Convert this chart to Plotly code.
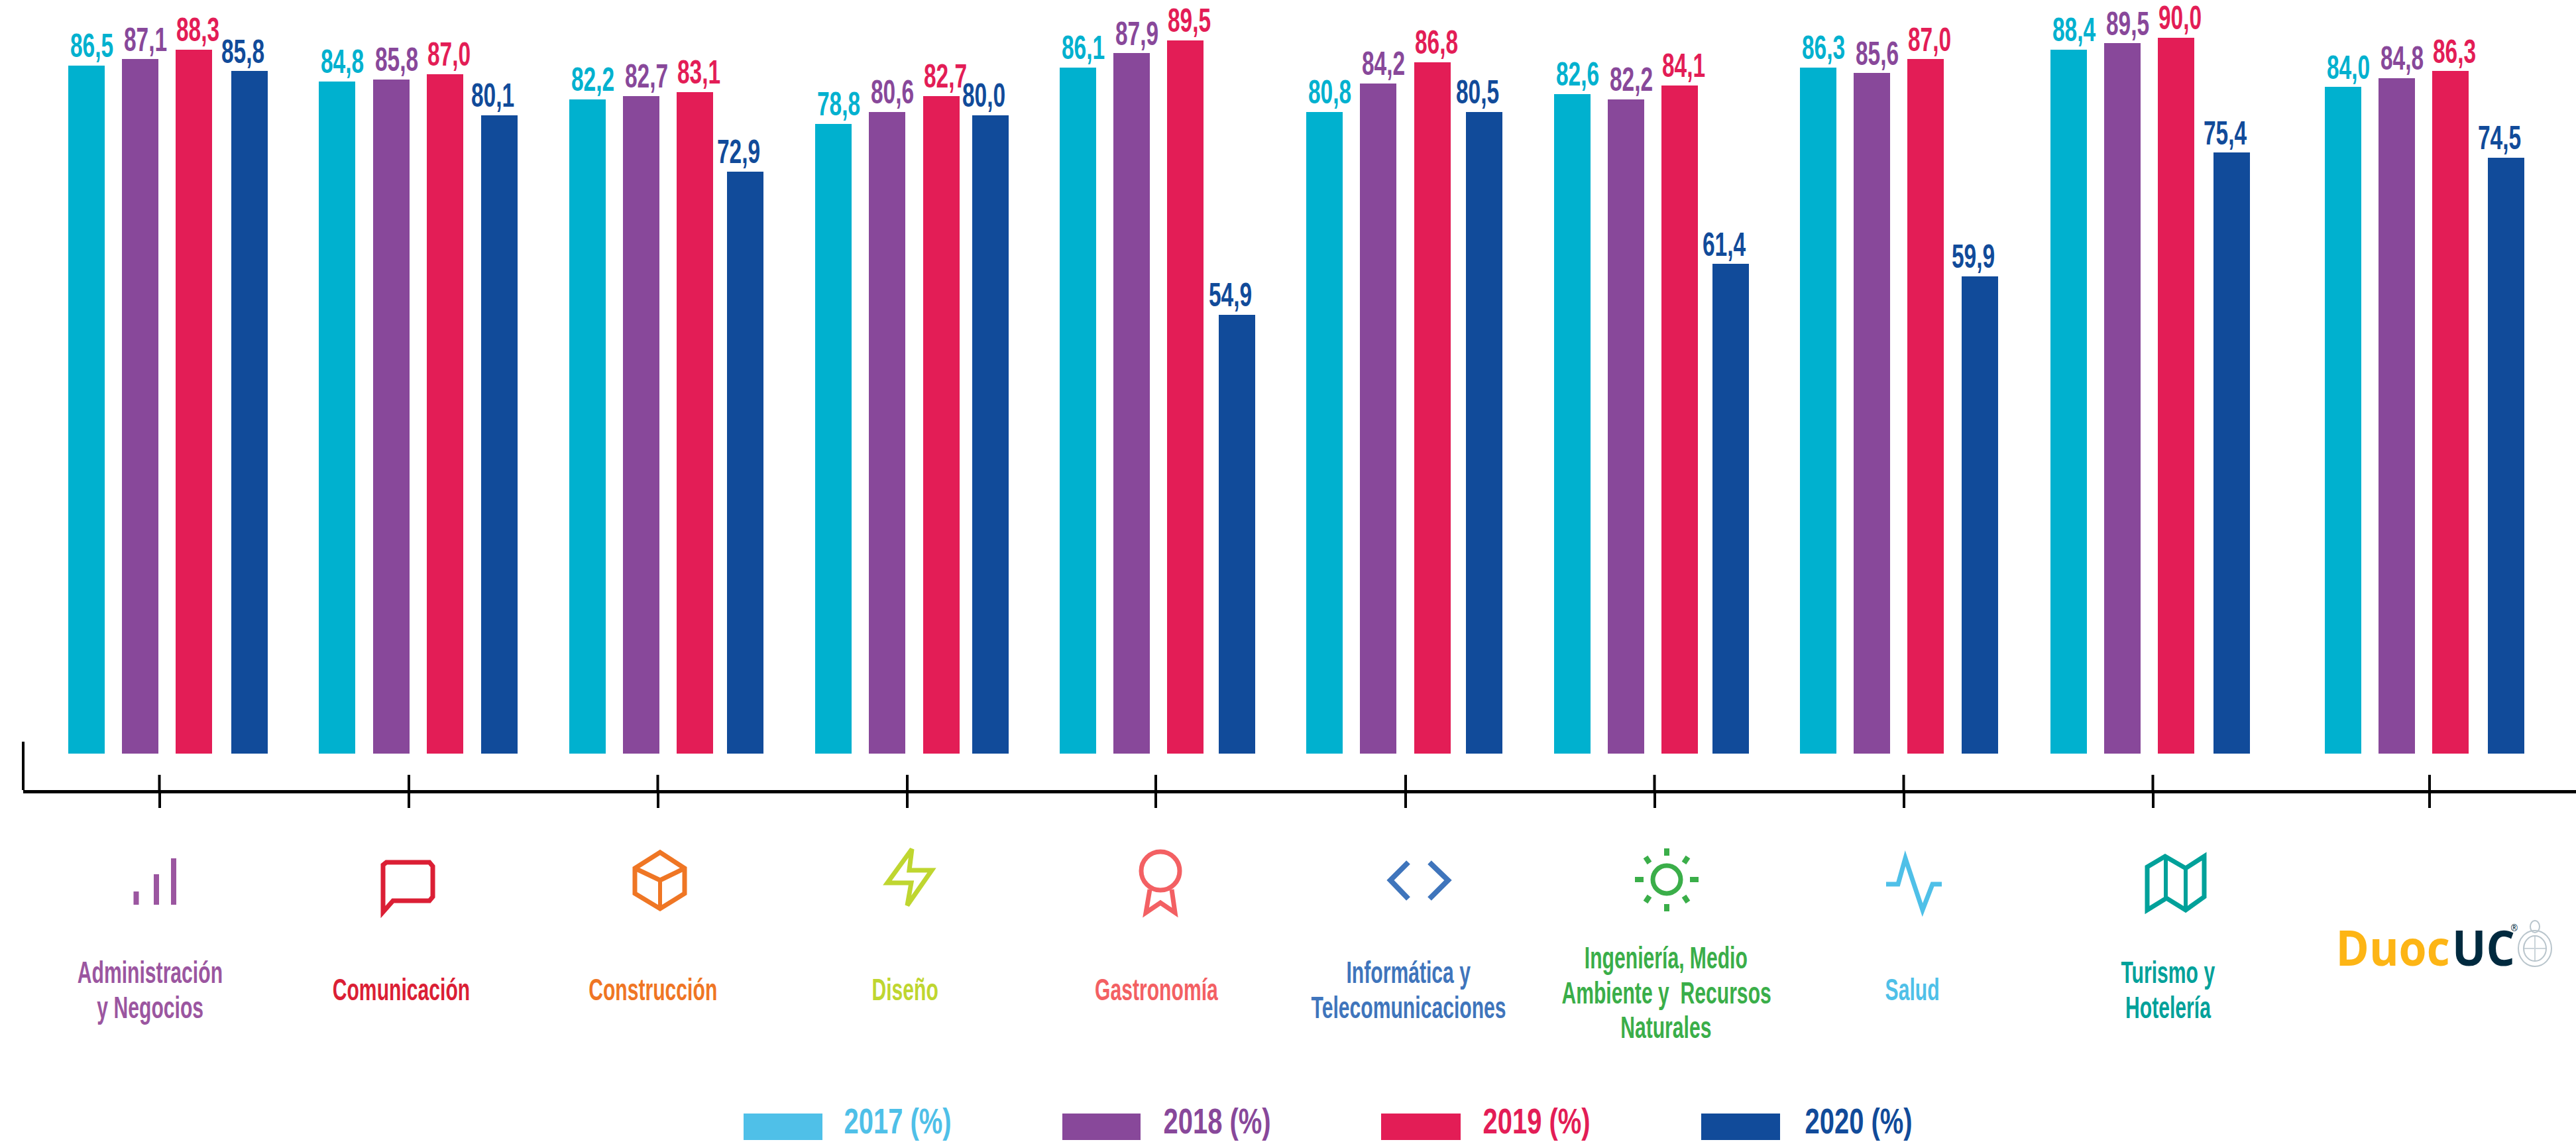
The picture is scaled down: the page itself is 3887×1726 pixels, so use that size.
import plotly.graph_objects as go

W, H = 3887, 1726

# ---------- data ----------
AREAS = ["Administración", "Comunicación", "Construcción", "Diseño", "Gastronomía",
         "Informática y Telecomunicaciones", "Ingeniería, Medio Ambiente y Recursos Naturales",
         "Salud", "Turismo y Hotelería", "Duoc UC"]
YEARS = ["2017", "2018", "2019", "2020"]

# printed labels
LABELS_2017 = ["86,5", "84,8", "82,2", "78,8", "86,1", "80,8", "82,6", "86,3", "88,4", "84,0"]
LABELS_2018 = ["87,1", "85,8", "82,7", "80,6", "87,9", "84,2", "82,2", "85,6", "89,5", "84,8"]
LABELS_2019 = ["88,3", "87,0", "83,1", "82,7", "89,5", "86,8", "84,1", "87,0", "90,0", "86,3"]
LABELS_2020 = ["85,8", "80,1", "72,9", "80,0", "54,9", "80,5", "61,4", "59,9", "75,4", "74,5"]

# bar heights as drawn in the picture
VALUES_2017 = [86.5, 84.5, 82.25, 79.17, 86.25, 80.67, 82.92, 86.25, 88.5, 83.83]
VALUES_2018 = [87.33, 84.75, 82.67, 80.67, 88.08, 84.25, 82.25, 85.58, 89.33, 84.92]
VALUES_2019 = [88.5, 85.42, 83.17, 82.67, 89.67, 86.92, 84.0, 87.33, 90.0, 85.83]
VALUES_2020 = [85.83, 80.25, 73.17, 80.25, 55.17, 80.67, 61.58, 60.0, 75.58, 74.92]

# ---------- layout of the picture ----------
LEFT_2017 = [103, 481, 859, 1230, 1599, 1971, 2345, 2716, 3094, 3508]
LEFT_2018 = [184, 563, 940, 1311, 1680, 2052, 2426, 2797, 3175, 3589]
LEFT_2019 = [265, 644, 1021, 1393, 1761, 2134, 2507, 2878, 3256, 3670]
LEFT_2020 = [349, 726, 1097, 1467, 1839, 2212, 2584, 2960, 3340, 3754]
TICKS = [240.5, 617, 992.5, 1369, 1744, 2121, 2496.5, 2872.5, 3248.5, 3666]

BAR_W = 55
BASE_PX = 1137
AXIS_PX = 1192
PX_PER_UNIT = 12
FONT = "Liberation Sans"

BAR_COLORS = ["#00B1CF", "#88489A", "#E31D56", "#114B9A"]
LEGEND_COLORS = ["#4FC0E8", "#88489A", "#E31D56", "#114B9A"]
LABEL_DX = [8, 8, 6, -10]

series = [
    (YEARS[0], VALUES_2017, LABELS_2017, LEFT_2017),
    (YEARS[1], VALUES_2018, LABELS_2018, LEFT_2018),
    (YEARS[2], VALUES_2019, LABELS_2019, LEFT_2019),
    (YEARS[3], VALUES_2020, LABELS_2020, LEFT_2020),
]


def px(x):
    return x / W


def py(y):
    return 1 - y / H


fig = go.Figure()
for i, (year, vals, labs, lefts) in enumerate(series):
    centers = [l + BAR_W / 2 for l in lefts]
    fig.add_trace(go.Bar(x=centers, y=vals, width=BAR_W, name=year + " (%)",
                         marker=dict(color=BAR_COLORS[i], line=dict(width=0)),
                         customdata=AREAS, showlegend=False))
for i, (year, vals, labs, lefts) in enumerate(series):
    centers = [l + BAR_W / 2 + LABEL_DX[i] for l in lefts]
    fig.add_trace(go.Scatter(x=centers, y=vals, text=labs,
                             mode="text", textposition="top center", showlegend=False,
                             cliponaxis=False,
                             textfont=dict(family=FONT, size=50, color=BAR_COLORS[i], weight=700)))

shapes = []
annotations = []


def stroke(path, color, width=7):
    shapes.append(dict(type="path", path=path, xref="paper", yref="paper",
                       line=dict(color=color, width=width), layer="above"))


def P(*pts, close=False):
    s = ""
    for k, (x, y) in enumerate(pts):
        s += ("M" if k == 0 else "L") + f"{px(x):.5f},{py(y):.5f} "
    return s + ("Z" if close else "")


def circle(cx, cy, rx, ry, color, width=7, fill=None):
    shapes.append(dict(type="circle", xref="paper", yref="paper",
                       x0=px(cx - rx), x1=px(cx + rx), y0=py(cy + ry), y1=py(cy - ry),
                       line=dict(color=color, width=width),
                       fillcolor=fill or "rgba(0,0,0,0)"))


def text(x, y, s, color, size, family=FONT, weight=700):
    annotations.append(dict(x=px(x), y=py(y), xref="paper", yref="paper", text=s,
                            showarrow=False, xanchor="center", yanchor="middle", align="center",
                            font=dict(family=family, size=size, color=color, weight=weight)))


# axis stub and the upper half of the ticks
stroke(P((35, 1119), (35, 1192)), "#000000", 4)
for t in TICKS:
    shapes.append(dict(type="line", xref="x", yref="paper", x0=t, x1=t,
                       y0=py(1192), y1=py(1169), line=dict(color="#000000", width=4)))

# icons
PURPLE, RED, ORANGE, LIME, CORAL, BLUE, GREEN, SKY, TEAL = (
    "#9B56A0", "#DB1F35", "#EF7624", "#BFD630", "#F36063", "#3F75BC", "#3AAE49", "#4FC0E8", "#00A19A")

stroke(P((205.5, 1345), (205.5, 1365)), PURPLE, 8)
stroke(P((236, 1319), (236, 1365)), PURPLE, 8)
stroke(P((262, 1295), (262, 1365)), PURPLE, 8)

stroke(P((578, 1305), (578, 1376), (593, 1359), (648, 1359), (653, 1353), (653, 1307),
         (648, 1301), (583, 1301), close=True), RED, 7)

stroke(P((996, 1286), (1033, 1310), (1033, 1348), (996, 1371), (958, 1348), (958, 1310), close=True), ORANGE, 7)
stroke(P((958, 1310), (996, 1328), (1033, 1310)), ORANGE, 7)
stroke(P((996, 1328), (996, 1371)), ORANGE, 6)

stroke(P((1376, 1281), (1339, 1332), (1375, 1332), (1369, 1366), (1406, 1313), (1372, 1313), close=True), LIME, 7)

circle(1751, 1314, 29, 29, CORAL, 7)
stroke(P((1735, 1342), (1729, 1377), (1751, 1362), (1773, 1377), (1768, 1342)), CORAL, 7)

stroke(P((2125, 1301), (2098, 1328), (2125, 1356)), BLUE, 8)
stroke(P((2157, 1301), (2185, 1328), (2157, 1356)), BLUE, 8)

circle(2515, 1327, 21, 21, GREEN, 7)
for a, b in [((2515, 1280), (2515, 1291)), ((2515, 1364), (2515, 1375)),
             ((2467, 1327), (2480, 1327)), ((2550, 1327), (2563, 1327)),
             ((2483, 1293), (2489, 1302)), ((2547, 1293), (2541, 1302)),
             ((2483, 1361), (2489, 1352)), ((2547, 1361), (2541, 1352))]:
    stroke(P(a, b), GREEN, 8)

stroke(P((2846, 1334), (2864, 1334), (2875, 1295), (2901, 1373), (2916, 1334), (2930, 1334)), SKY, 7)

stroke(P((3240, 1308), (3267, 1292), (3298, 1310), (3326, 1292), (3326, 1353),
         (3298, 1373), (3269, 1355), (3240, 1373), close=True), TEAL, 7)
stroke(P((3268, 1292), (3268, 1355)), TEAL, 6)
stroke(P((3298, 1310), (3298, 1373)), TEAL, 6)

# category labels, one annotation per printed line
CAT_SIZE = 46
for x, y, s, c in [
    (226, 1467, "Administración", PURPLE), (226, 1520, "y Negocios", PURPLE),
    (605, 1493, "Comunicación", RED),
    (985, 1493, "Construcción", ORANGE),
    (1365, 1493, "Diseño", LIME),
    (1745, 1493, "Gastronomía", CORAL),
    (2125, 1467, "Informática y", BLUE), (2125, 1520, "Telecomunicaciones", BLUE),
    (2514, 1445, "Ingeniería, Medio", GREEN), (2514, 1498, "Ambiente y  Recursos", GREEN),
    (2514, 1550, "Naturales", GREEN),
    (2885, 1493, "Salud", SKY),
    (3271, 1467, "Turismo y", TEAL), (3271, 1520, "Hotelería", TEAL),
]:
    text(x, y, s, c, CAT_SIZE)

# Duoc UC logo
text(3610, 1428, "Duoc", "#FDB515", 74, family="Open Sans")
text(3747, 1428, "UC", "#002A3F", 74, family="Open Sans")
text(3794, 1399, "®", "#002A3F", 14, family="Open Sans", weight=400)
circle(3825, 1431, 25, 27, "#B9C5CC", 2)
circle(3825, 1431, 17, 19, "#B9C5CC", 2)
circle(3825, 1398, 7, 9, "#B9C5CC", 2)
stroke(P((3825, 1413), (3825, 1449)), "#CBD4DA", 2)
stroke(P((3809, 1431), (3841, 1431)), "#CBD4DA", 2)

# legend
LEG_SQ = [(1122, 1241), (1603, 1721), (2084, 2204), (2567, 2686)]
LEG_TX = [1354.5, 1836, 2318.5, 2804]
for i, year in enumerate(YEARS):
    x0, x1 = LEG_SQ[i]
    shapes.append(dict(type="rect", xref="paper", yref="paper", x0=px(x0), x1=px(x1),
                       y0=py(1720), y1=py(1680), line=dict(width=0), fillcolor=LEGEND_COLORS[i]))
    text(LEG_TX[i], 1691, year + " (%)", LEGEND_COLORS[i], 54)

fig.update_layout(
    width=W, height=H, margin=dict(l=0, r=0, t=0, b=0, pad=0), autosize=False,
    paper_bgcolor="#FFFFFF", plot_bgcolor="#FFFFFF", barmode="overlay", showlegend=False,
    xaxis=dict(domain=[35 / W, 1], range=[35, W], tickmode="array", tickvals=TICKS,
               ticks="outside", ticklen=22, tickwidth=4, tickcolor="#000000",
               showticklabels=False, showgrid=False, zeroline=False,
               showline=True, linecolor="#000000", linewidth=5),
    yaxis=dict(domain=[(H - AXIS_PX) / H, 1],
               range=[(BASE_PX - AXIS_PX) / PX_PER_UNIT, BASE_PX / PX_PER_UNIT],
               visible=False, showgrid=False, zeroline=False),
    shapes=shapes, annotations=annotations,
)

# The reference uses a condensed face; no condensed family is installed, so the
# real text is narrowed in place about its own centre.
POST = """
document.body.style.margin='0';document.body.style.overflow='hidden';
function narrow(){
  document.querySelectorAll('svg text').forEach(function(el){
    var t=el.getAttribute('transform')||'';
    if(t.indexOf('scale(')>=0||!el.textContent) return;
    var ff=el.style.fontFamily||'', fs=parseFloat(el.style.fontSize)||0;
    var sx=ff.indexOf('Open Sans')>=0?0.92:(fs===46?0.655:(fs===54?0.74:0.67));
    var b=el.getBBox(), cx=b.x+b.width/2, cy=b.y+b.height/2;
    el.setAttribute('transform',t+' translate('+cx+','+cy+') scale('+sx+',1) translate('+(-cx)+','+(-cy)+')');
  });
}
narrow();
var n=0,iv=setInterval(function(){narrow();if(++n>20)clearInterval(iv);},100);
"""
fig.write_html("out.html", config=dict(displayModeBar=False, responsive=False), post_script=POST)
